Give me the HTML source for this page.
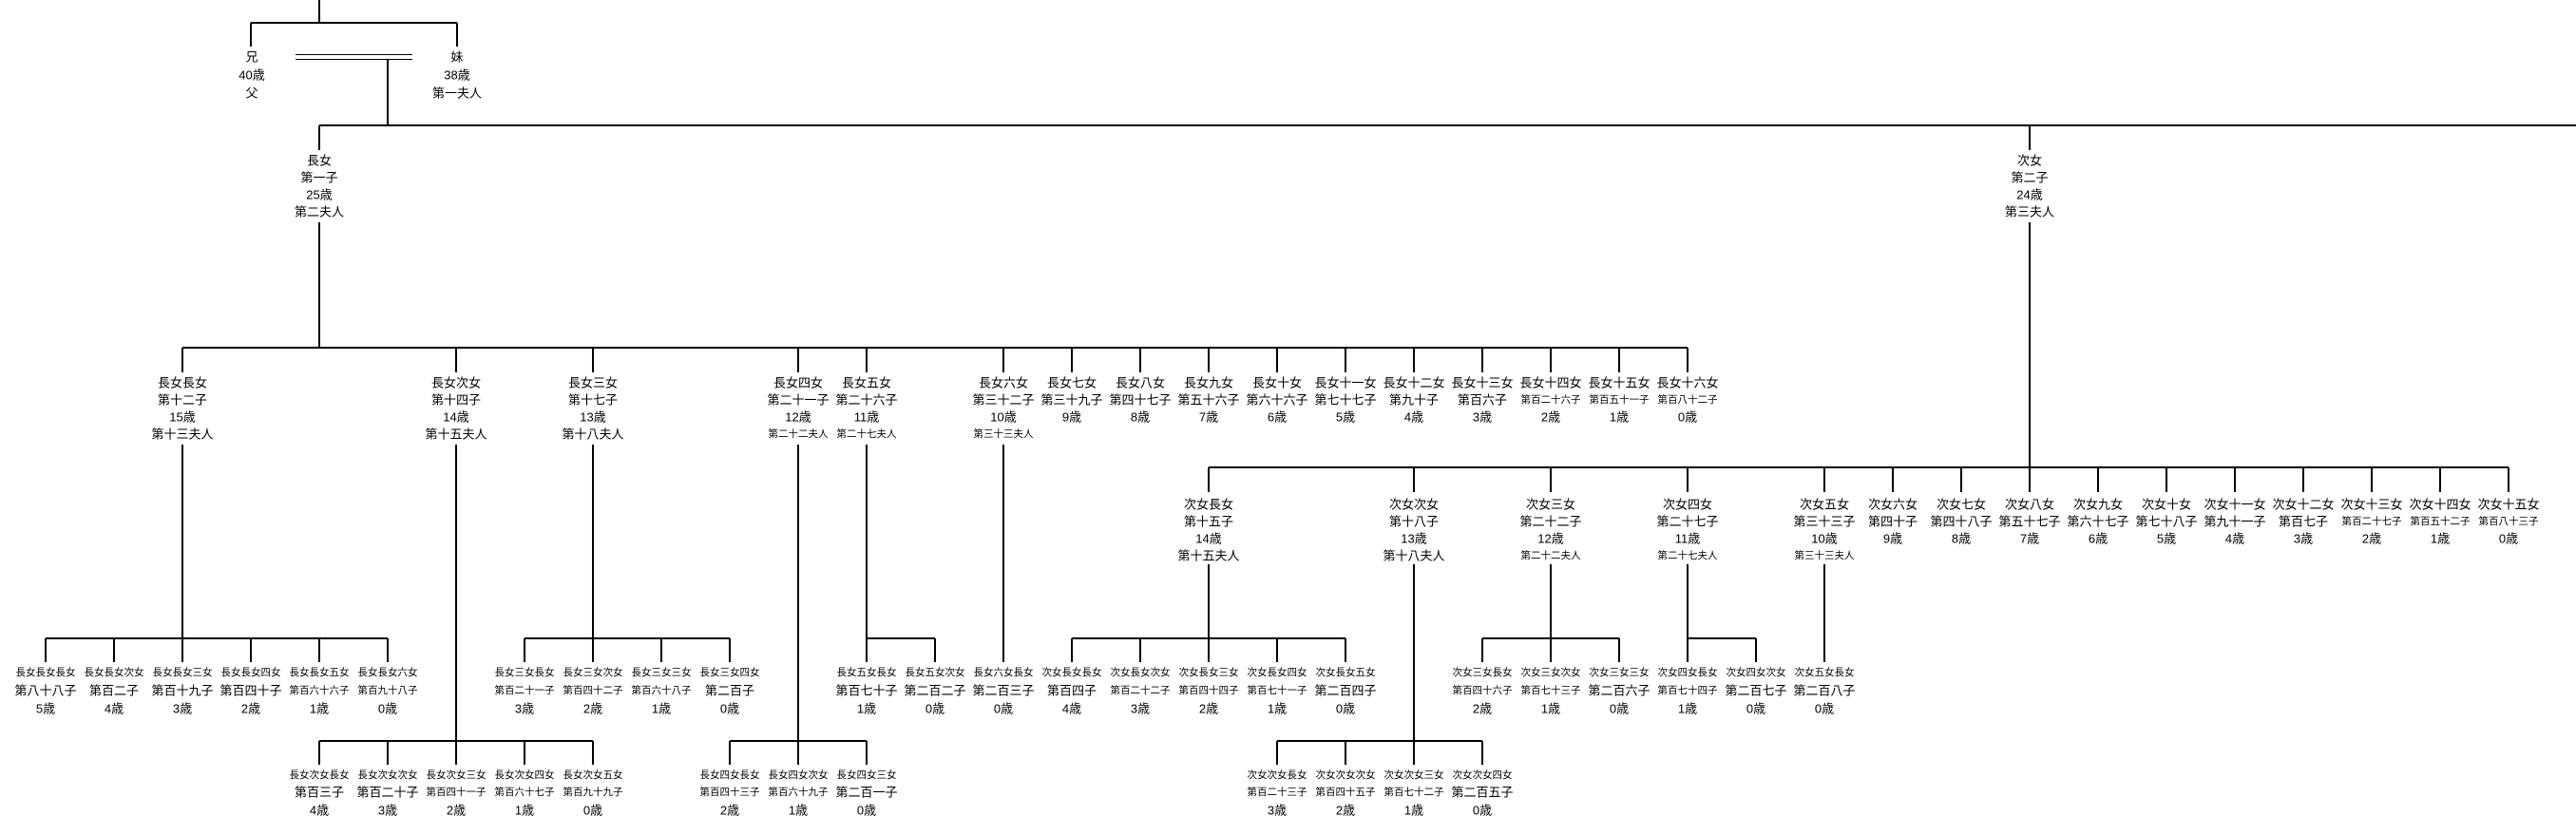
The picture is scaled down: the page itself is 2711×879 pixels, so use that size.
<!DOCTYPE html>
<html><head><meta charset="utf-8"><style>
html,body{margin:0;padding:0;background:#fff}
svg{display:block}
text{font-family:"Liberation Sans","Noto Sans CJK JP",sans-serif;fill:#000;text-anchor:middle;dominant-baseline:central}
.t{font-size:13px}.s{font-size:10.5px}
</style></head><body>
<svg width="2711" height="879" viewBox="0 0 2711 879" xmlns="http://www.w3.org/2000/svg">
<g stroke="#000" stroke-width="2" fill="none">
<path d="M336 0V24M264 24H481M264 24V49M481 24V49"/>
<path d="M408 62V132M336 132H2711M336 132V158M2136 132V158"/>
<path d="M336 234V366M192 366H1776"/>
<path d="M192 366V392M480 366V392M624 366V392M840 366V392M912 366V392M1056 366V392M1128 366V392M1200 366V392M1272 366V392M1344 366V392M1416 366V392M1488 366V392M1560 366V392M1632 366V392M1704 366V392M1776 366V392"/>
<path d="M2136 234V492M1272 492H2640"/>
<path d="M1272 492V518M1488 492V518M1632 492V518M1776 492V518M1920 492V518M1992 492V518M2064 492V518M2136 492V518M2208 492V518M2280 492V518M2352 492V518M2424 492V518M2496 492V518M2568 492V518M2640 492V518"/>
<!-- descent lines from level-2 nodes -->
<path d="M192 468V672M480 468V780M624 468V672M840 468V780M912 468V672M1056 468V672"/>
<path d="M1272 594V672M1488 594V780M1632 594V672M1776 594V672M1920 594V672"/>
<!-- row1 bars -->
<path d="M48 672H408M552 672H768M912 672H984M1128 672H1416M1560 672H1704M1776 672H1848"/>
<path d="M48 672V697M120 672V697M192 672V697M264 672V697M336 672V697M408 672V697M552 672V697M624 672V697M696 672V697M768 672V697M912 672V697M984 672V697M1056 672V697M1128 672V697M1200 672V697M1272 672V697M1344 672V697M1416 672V697M1560 672V697M1632 672V697M1704 672V697M1776 672V697M1848 672V697M1920 672V697"/>
<!-- row2 bars -->
<path d="M336 780H624M768 780H912M1344 780H1560"/>
<path d="M336 780V805M408 780V805M480 780V805M552 780V805M624 780V805M768 780V805M840 780V805M912 780V805M1344 780V805M1416 780V805M1488 780V805M1560 780V805"/>
</g>
<g stroke="#000" stroke-width="1">
<path d="M311 57.5H434M311 62.5H434"/>
</g>
<!-- level 0 -->
<g class="t">
<text class="t" x="265" y="60">兄</text><text class="t" x="265" y="79">40歳</text><text class="t" x="265" y="98">父</text>
<text class="t" x="481" y="60">妹</text><text class="t" x="481" y="79">38歳</text><text class="t" x="481" y="98">第一夫人</text>
<!-- level 1 -->
<text class="t" x="336" y="169">長女</text><text class="t" x="336" y="187">第一子</text><text class="t" x="336" y="205">25歳</text><text class="t" x="336" y="223">第二夫人</text>
<text class="t" x="2136" y="169">次女</text><text class="t" x="2136" y="187">第二子</text><text class="t" x="2136" y="205">24歳</text><text class="t" x="2136" y="223">第三夫人</text>
</g>
<!-- level 2: 長女 children -->
<text class="t" x="192" y="403">長女長女</text><text class="t" x="192" y="421">第十二子</text><text class="t" x="192" y="439">15歳</text><text class="t" x="192" y="457">第十三夫人</text>
<text class="t" x="480" y="403">長女次女</text><text class="t" x="480" y="421">第十四子</text><text class="t" x="480" y="439">14歳</text><text class="t" x="480" y="457">第十五夫人</text>
<text class="t" x="624" y="403">長女三女</text><text class="t" x="624" y="421">第十七子</text><text class="t" x="624" y="439">13歳</text><text class="t" x="624" y="457">第十八夫人</text>
<text class="t" x="840" y="403">長女四女</text><text class="t" x="840" y="421">第二十一子</text><text class="t" x="840" y="439">12歳</text><text class="s" x="840" y="457">第二十二夫人</text>
<text class="t" x="912" y="403">長女五女</text><text class="t" x="912" y="421">第二十六子</text><text class="t" x="912" y="439">11歳</text><text class="s" x="912" y="457">第二十七夫人</text>
<text class="t" x="1056" y="403">長女六女</text><text class="t" x="1056" y="421">第三十二子</text><text class="t" x="1056" y="439">10歳</text><text class="s" x="1056" y="457">第三十三夫人</text>
<text class="t" x="1128" y="403">長女七女</text><text class="t" x="1128" y="421">第三十九子</text><text class="t" x="1128" y="439">9歳</text>
<text class="t" x="1200" y="403">長女八女</text><text class="t" x="1200" y="421">第四十七子</text><text class="t" x="1200" y="439">8歳</text>
<text class="t" x="1272" y="403">長女九女</text><text class="t" x="1272" y="421">第五十六子</text><text class="t" x="1272" y="439">7歳</text>
<text class="t" x="1344" y="403">長女十女</text><text class="t" x="1344" y="421">第六十六子</text><text class="t" x="1344" y="439">6歳</text>
<text class="t" x="1416" y="403">長女十一女</text><text class="t" x="1416" y="421">第七十七子</text><text class="t" x="1416" y="439">5歳</text>
<text class="t" x="1488" y="403">長女十二女</text><text class="t" x="1488" y="421">第九十子</text><text class="t" x="1488" y="439">4歳</text>
<text class="t" x="1560" y="403">長女十三女</text><text class="t" x="1560" y="421">第百六子</text><text class="t" x="1560" y="439">3歳</text>
<text class="t" x="1632" y="403">長女十四女</text><text class="s" x="1632" y="421">第百二十六子</text><text class="t" x="1632" y="439">2歳</text>
<text class="t" x="1704" y="403">長女十五女</text><text class="s" x="1704" y="421">第百五十一子</text><text class="t" x="1704" y="439">1歳</text>
<text class="t" x="1776" y="403">長女十六女</text><text class="s" x="1776" y="421">第百八十二子</text><text class="t" x="1776" y="439">0歳</text>
<!-- level 2: 次女 children -->
<text class="t" x="1272" y="531">次女長女</text><text class="t" x="1272" y="549">第十五子</text><text class="t" x="1272" y="567">14歳</text><text class="t" x="1272" y="585">第十五夫人</text>
<text class="t" x="1488" y="531">次女次女</text><text class="t" x="1488" y="549">第十八子</text><text class="t" x="1488" y="567">13歳</text><text class="t" x="1488" y="585">第十八夫人</text>
<text class="t" x="1632" y="531">次女三女</text><text class="t" x="1632" y="549">第二十二子</text><text class="t" x="1632" y="567">12歳</text><text class="s" x="1632" y="585">第二十二夫人</text>
<text class="t" x="1776" y="531">次女四女</text><text class="t" x="1776" y="549">第二十七子</text><text class="t" x="1776" y="567">11歳</text><text class="s" x="1776" y="585">第二十七夫人</text>
<text class="t" x="1920" y="531">次女五女</text><text class="t" x="1920" y="549">第三十三子</text><text class="t" x="1920" y="567">10歳</text><text class="s" x="1920" y="585">第三十三夫人</text>
<text class="t" x="1992" y="531">次女六女</text><text class="t" x="1992" y="549">第四十子</text><text class="t" x="1992" y="567">9歳</text>
<text class="t" x="2064" y="531">次女七女</text><text class="t" x="2064" y="549">第四十八子</text><text class="t" x="2064" y="567">8歳</text>
<text class="t" x="2136" y="531">次女八女</text><text class="t" x="2136" y="549">第五十七子</text><text class="t" x="2136" y="567">7歳</text>
<text class="t" x="2208" y="531">次女九女</text><text class="t" x="2208" y="549">第六十七子</text><text class="t" x="2208" y="567">6歳</text>
<text class="t" x="2280" y="531">次女十女</text><text class="t" x="2280" y="549">第七十八子</text><text class="t" x="2280" y="567">5歳</text>
<text class="t" x="2352" y="531">次女十一女</text><text class="t" x="2352" y="549">第九十一子</text><text class="t" x="2352" y="567">4歳</text>
<text class="t" x="2424" y="531">次女十二女</text><text class="t" x="2424" y="549">第百七子</text><text class="t" x="2424" y="567">3歳</text>
<text class="t" x="2496" y="531">次女十三女</text><text class="s" x="2496" y="549">第百二十七子</text><text class="t" x="2496" y="567">2歳</text>
<text class="t" x="2568" y="531">次女十四女</text><text class="s" x="2568" y="549">第百五十二子</text><text class="t" x="2568" y="567">1歳</text>
<text class="t" x="2640" y="531">次女十五女</text><text class="s" x="2640" y="549">第百八十三子</text><text class="t" x="2640" y="567">0歳</text>
<!-- row1 grandchildren -->
<text class="s" x="48" y="708">長女長女長女</text><text class="t" x="48" y="727">第八十八子</text><text class="t" x="48" y="746">5歳</text>
<text class="s" x="120" y="708">長女長女次女</text><text class="t" x="120" y="727">第百二子</text><text class="t" x="120" y="746">4歳</text>
<text class="s" x="192" y="708">長女長女三女</text><text class="t" x="192" y="727">第百十九子</text><text class="t" x="192" y="746">3歳</text>
<text class="s" x="264" y="708">長女長女四女</text><text class="t" x="264" y="727">第百四十子</text><text class="t" x="264" y="746">2歳</text>
<text class="s" x="336" y="708">長女長女五女</text><text class="s" x="336" y="727">第百六十六子</text><text class="t" x="336" y="746">1歳</text>
<text class="s" x="408" y="708">長女長女六女</text><text class="s" x="408" y="727">第百九十八子</text><text class="t" x="408" y="746">0歳</text>
<text class="s" x="552" y="708">長女三女長女</text><text class="s" x="552" y="727">第百二十一子</text><text class="t" x="552" y="746">3歳</text>
<text class="s" x="624" y="708">長女三女次女</text><text class="s" x="624" y="727">第百四十二子</text><text class="t" x="624" y="746">2歳</text>
<text class="s" x="696" y="708">長女三女三女</text><text class="s" x="696" y="727">第百六十八子</text><text class="t" x="696" y="746">1歳</text>
<text class="s" x="768" y="708">長女三女四女</text><text class="t" x="768" y="727">第二百子</text><text class="t" x="768" y="746">0歳</text>
<text class="s" x="912" y="708">長女五女長女</text><text class="t" x="912" y="727">第百七十子</text><text class="t" x="912" y="746">1歳</text>
<text class="s" x="984" y="708">長女五女次女</text><text class="t" x="984" y="727">第二百二子</text><text class="t" x="984" y="746">0歳</text>
<text class="s" x="1056" y="708">長女六女長女</text><text class="t" x="1056" y="727">第二百三子</text><text class="t" x="1056" y="746">0歳</text>
<text class="s" x="1128" y="708">次女長女長女</text><text class="t" x="1128" y="727">第百四子</text><text class="t" x="1128" y="746">4歳</text>
<text class="s" x="1200" y="708">次女長女次女</text><text class="s" x="1200" y="727">第百二十二子</text><text class="t" x="1200" y="746">3歳</text>
<text class="s" x="1272" y="708">次女長女三女</text><text class="s" x="1272" y="727">第百四十四子</text><text class="t" x="1272" y="746">2歳</text>
<text class="s" x="1344" y="708">次女長女四女</text><text class="s" x="1344" y="727">第百七十一子</text><text class="t" x="1344" y="746">1歳</text>
<text class="s" x="1416" y="708">次女長女五女</text><text class="t" x="1416" y="727">第二百四子</text><text class="t" x="1416" y="746">0歳</text>
<text class="s" x="1560" y="708">次女三女長女</text><text class="s" x="1560" y="727">第百四十六子</text><text class="t" x="1560" y="746">2歳</text>
<text class="s" x="1632" y="708">次女三女次女</text><text class="s" x="1632" y="727">第百七十三子</text><text class="t" x="1632" y="746">1歳</text>
<text class="s" x="1704" y="708">次女三女三女</text><text class="t" x="1704" y="727">第二百六子</text><text class="t" x="1704" y="746">0歳</text>
<text class="s" x="1776" y="708">次女四女長女</text><text class="s" x="1776" y="727">第百七十四子</text><text class="t" x="1776" y="746">1歳</text>
<text class="s" x="1848" y="708">次女四女次女</text><text class="t" x="1848" y="727">第二百七子</text><text class="t" x="1848" y="746">0歳</text>
<text class="s" x="1920" y="708">次女五女長女</text><text class="t" x="1920" y="727">第二百八子</text><text class="t" x="1920" y="746">0歳</text>
<!-- row2 grandchildren -->
<text class="s" x="336" y="816">長女次女長女</text><text class="t" x="336" y="834">第百三子</text><text class="t" x="336" y="853">4歳</text>
<text class="s" x="408" y="816">長女次女次女</text><text class="t" x="408" y="834">第百二十子</text><text class="t" x="408" y="853">3歳</text>
<text class="s" x="480" y="816">長女次女三女</text><text class="s" x="480" y="834">第百四十一子</text><text class="t" x="480" y="853">2歳</text>
<text class="s" x="552" y="816">長女次女四女</text><text class="s" x="552" y="834">第百六十七子</text><text class="t" x="552" y="853">1歳</text>
<text class="s" x="624" y="816">長女次女五女</text><text class="s" x="624" y="834">第百九十九子</text><text class="t" x="624" y="853">0歳</text>
<text class="s" x="768" y="816">長女四女長女</text><text class="s" x="768" y="834">第百四十三子</text><text class="t" x="768" y="853">2歳</text>
<text class="s" x="840" y="816">長女四女次女</text><text class="s" x="840" y="834">第百六十九子</text><text class="t" x="840" y="853">1歳</text>
<text class="s" x="912" y="816">長女四女三女</text><text class="t" x="912" y="834">第二百一子</text><text class="t" x="912" y="853">0歳</text>
<text class="s" x="1344" y="816">次女次女長女</text><text class="s" x="1344" y="834">第百二十三子</text><text class="t" x="1344" y="853">3歳</text>
<text class="s" x="1416" y="816">次女次女次女</text><text class="s" x="1416" y="834">第百四十五子</text><text class="t" x="1416" y="853">2歳</text>
<text class="s" x="1488" y="816">次女次女三女</text><text class="s" x="1488" y="834">第百七十二子</text><text class="t" x="1488" y="853">1歳</text>
<text class="s" x="1560" y="816">次女次女四女</text><text class="t" x="1560" y="834">第二百五子</text><text class="t" x="1560" y="853">0歳</text>
</svg>
</body></html>
